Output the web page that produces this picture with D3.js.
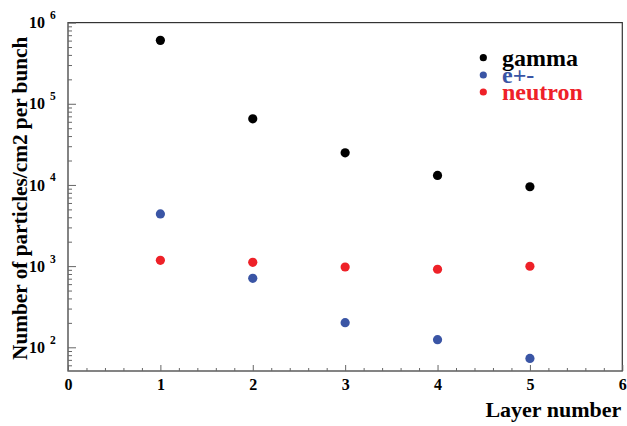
<!DOCTYPE html>
<html><head><meta charset="utf-8">
<script src="https://cdn.jsdelivr.net/npm/d3@7"></script>
<style>
html,body{margin:0;padding:0;background:#fff;}
svg{display:block;}
text{font-family:"Liberation Serif","Times New Roman",serif;font-weight:bold;}
</style></head>
<body>
<svg id="chart" width="627" height="426"></svg>
<script>
const layers = [1, 2, 3, 4, 5];
const gamma = [604000, 65300, 24900, 13100, 9500];
const electrons = [4390, 708, 201, 124, 73];
const neutron = [1178, 1114, 975, 915, 996];
const seriesNames = ["gamma", "e+-", "neutron"];
const seriesColors = ["#000000", "#3a55a5", "#ee2128"];
const xTicks = [0, 1, 2, 3, 4, 5, 6];
const yDecades = [2, 3, 4, 5, 6];
const xTitle = "Layer number";
const yTitle = "Number of particles/cm2 per bunch";

const svg = d3.select("#chart");
const L = 68, R = 622.3, T = 22.6, B = 371;
const x = d3.scaleLinear().domain([0, 6]).range([L, R]);
const y = d3.scaleLog().domain([Math.pow(10, 1.708), 1e6]).range([B, T]);

// frame
svg.append("rect").attr("x", L).attr("y", T).attr("width", R - L).attr("height", B - T)
  .attr("fill", "none").attr("stroke", "#333").attr("stroke-width", 1.2);

// x axis minor
const xMinor = d3.range(0, 6.0001, 0.2).filter(v => Math.abs(v - Math.round(v)) > 1e-6);
svg.append("g").attr("transform", `translate(0,${B})`)
  .call(d3.axisBottom(x).tickValues(xMinor).tickSize(-3).tickFormat(""))
  .call(g => g.select(".domain").remove())
  .call(g => g.selectAll("line").attr("stroke", "#666"));
svg.append("g").attr("transform", `translate(0,${B})`)
  .call(d3.axisBottom(x).tickValues(xTicks).tickSize(-6).tickPadding(8).tickFormat(d3.format("d")))
  .call(g => g.select(".domain").remove())
  .call(g => g.selectAll("line").attr("stroke", "#666"))
  .call(g => g.selectAll("text").attr("font-size", 16).attr("fill", "#000")
     .attr("font-family", "Liberation Serif").attr("font-weight", "bold"));

// y axis minor
const yMinor = [];
for (let d = 1; d <= 5; d++) for (let m = 2; m <= 9; m++) {
  const v = m * Math.pow(10, d);
  if (v >= y.domain()[0] && v <= 1e6) yMinor.push(v);
}
svg.append("g").attr("transform", `translate(${L},0)`)
  .call(d3.axisLeft(y).tickValues(yMinor).tickSize(-4).tickFormat(""))
  .call(g => g.select(".domain").remove())
  .call(g => g.selectAll("line").attr("stroke", "#666"));
const yMaj = svg.append("g").attr("transform", `translate(${L},0)`)
  .call(d3.axisLeft(y).tickValues(yDecades.map(e => Math.pow(10, e))).tickSize(-8).tickPadding(23).tickFormat(() => "10"))
  .call(g => g.select(".domain").remove())
  .call(g => g.selectAll("line").attr("stroke", "#666"))
  .call(g => g.selectAll("text").attr("font-size", 16).attr("fill", "#000")
     .attr("font-family", "Liberation Serif").attr("font-weight", "bold"));
yMaj.selectAll(".tick").append("text")
  .attr("x", -18).attr("y", -4).attr("text-anchor", "start")
  .attr("font-size", 11.5).attr("fill", "#000")
  .attr("font-family", "Liberation Serif").attr("font-weight", "bold")
  .text(d => Math.round(Math.log10(d)));

// titles
svg.append("text").attr("x", R - 1).attr("y", 417).attr("text-anchor", "end")
  .attr("font-size", 22).attr("fill", "#000").text(xTitle);
svg.append("text").attr("transform", "translate(27,360) rotate(-90)")
  .attr("text-anchor", "start").attr("font-size", 21.3).attr("fill", "#000").text(yTitle);

// points
const allSeries = [gamma, electrons, neutron];
allSeries.forEach((vals, i) => {
  svg.append("g").selectAll("circle").data(vals).join("circle")
    .attr("cx", (d, j) => x(layers[j])).attr("cy", d => y(d))
    .attr("r", 4.6).attr("fill", seriesColors[i]);
});

// legend
const legY = [57.7, 75, 92];
const leg = svg.append("g");
seriesNames.forEach((n, i) => {
  leg.append("circle").attr("cx", 483.3).attr("cy", legY[i]).attr("r", 3.6).attr("fill", seriesColors[i]);
  leg.append("text").attr("x", 502).attr("y", legY[i] + 8).attr("font-size", 24)
    .attr("fill", seriesColors[i]).text(n);
});
</script>
</body></html>
